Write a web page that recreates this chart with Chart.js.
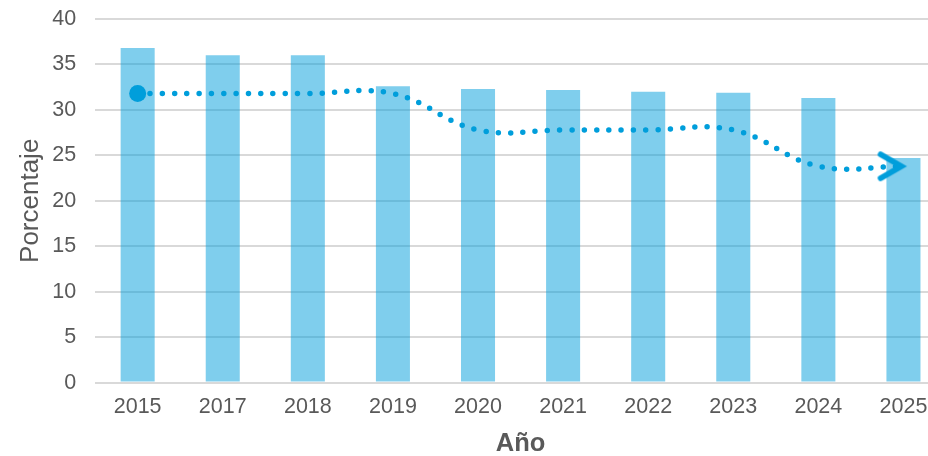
<!DOCTYPE html>
<html>
<head>
<meta charset="utf-8">
<script src="https://cdn.jsdelivr.net/npm/chart.js@4"></script>
<style>
    html, body { margin: 0; padding: 0; background: #fff; overflow: hidden; }
    #wrap { position: relative; width: 956px; height: 456px; }
</style>
</head>
<body>
<div id="wrap"><canvas id="chart"></canvas></div>
<script>
// Chart data
var years = ['2015', '2017', '2018', '2019', '2020', '2021', '2022', '2023', '2024', '2025'];
var porcentajes = [36.8, 36.0, 36.0, 32.6, 32.3, 32.2, 32.0, 31.9, 31.3, 24.7];
var tendencia = [31.8, 31.8, 31.8, 31.8, 27.8, 27.8, 27.8, 27.8, 23.8, 23.8];
var yTicks = [0, 5, 10, 15, 20, 25, 30, 35, 40];

var blue = '#009edb';
var textColor = '#595959';
var fontFamily = '"Liberation Sans", Arial, sans-serif';

// Arrow head for the last point of the trend line (tip sits on the point)
function makeArrow() {
    var c = document.createElement('canvas');
    c.width = 56;
    c.height = 36;
    var g = c.getContext('2d');
    g.strokeStyle = blue;
    g.lineWidth = 5.5;
    g.lineCap = 'round';
    g.lineJoin = 'miter';
    g.beginPath();
    g.moveTo(28 - 23, 18 - 12);
    g.lineTo(26, 18);
    g.lineTo(28 - 23, 18 + 12);
    g.stroke();
    return c;
}
var arrow = makeArrow();
var last = tendencia.length - 1;

new Chart(document.getElementById('chart'), {
    type: 'bar',
    data: {
        labels: years,
        datasets: [{
            type: 'line',
            data: tendencia,
            borderColor: blue,
            borderWidth: 5.5,
            borderDash: [0, 12.3],
            borderCapStyle: 'round',
            tension: 0.4,
            fill: false,
            pointStyle: function(ctx) {
                return ctx.dataIndex === last ? arrow : 'circle';
            },
            pointRadius: function(ctx) {
                if (ctx.dataIndex === 0) return 8.5;
                if (ctx.dataIndex === last) return 10;
                return 0;
            },
            pointBackgroundColor: blue,
            pointBorderColor: blue,
            pointBorderWidth: 0,
            order: 0
        }, {
            type: 'bar',
            data: porcentajes,
            backgroundColor: 'rgba(0, 158, 219, 0.5)',
            borderWidth: 0,
            barPercentage: 0.8,
            categoryPercentage: 0.5,
            order: 1
        }]
    },
    options: {
        responsive: true,
        maintainAspectRatio: false,
        animation: false,
        layout: {
            padding: { top: 19, left: 0, right: 0, bottom: 0 }
        },
        plugins: {
            legend: { display: false },
            tooltip: { enabled: false }
        },
        scales: {
            x: {
                // transparent tick marks only push the labels down
                grid: { display: false, drawTicks: true, tickLength: 12, tickColor: 'rgba(0,0,0,0)' },
                border: { display: false },
                ticks: {
                    color: textColor,
                    font: { family: fontFamily, size: 21.5 },
                    padding: 0
                },
                title: {
                    display: true,
                    text: 'Año',
                    color: textColor,
                    font: { family: fontFamily, size: 25.5, weight: 'bold' },
                    padding: { top: 8, bottom: -3 }
                }
            },
            y: {
                min: 0,
                max: 40,
                afterBuildTicks: function(axis) {
                    axis.ticks = yTicks.map(function(v) { return { value: v }; });
                },
                grid: { color: '#d9d9d9', lineWidth: 2, drawTicks: true, tickLength: 19, tickColor: 'rgba(0,0,0,0)' },
                border: { display: false },
                ticks: {
                    color: textColor,
                    font: { family: fontFamily, size: 21.5 },
                    padding: 0
                },
                title: {
                    display: true,
                    text: 'Porcentaje',
                    color: textColor,
                    font: { family: fontFamily, size: 26 },
                    padding: { top: 15, bottom: 6 }
                }
            }
        }
    }
});
</script>
</body>
</html>
